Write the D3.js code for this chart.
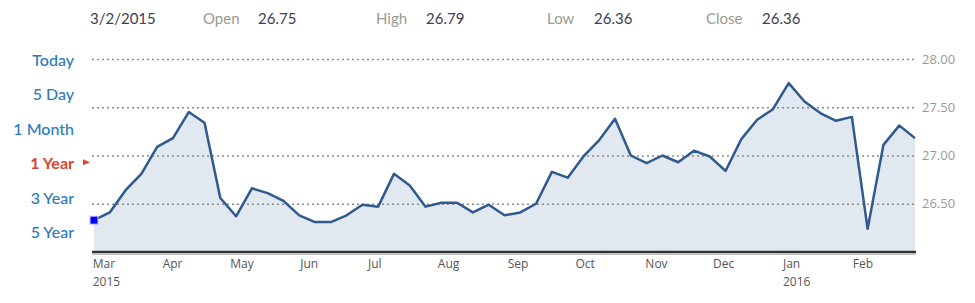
<!DOCTYPE html>
<html>
<head>
<meta charset="utf-8">
<script src="https://cdn.jsdelivr.net/npm/d3@7"></script>
<style>
  body { margin: 0; background: #fff; }
  svg { display: block; }
</style>
</head>
<body>
<div id="chart"></div>
<script>
// weekly closes, Mon 3/2/2015 .. Mon 2/29/2016
const startDate = '2015-03-02';
const closes = [
  26.33, 26.41, 26.64, 26.81, 27.09, 27.18, 27.45, 27.34, 26.56, 26.37,
  26.66, 26.61, 26.53, 26.38, 26.31, 26.31, 26.38, 26.49, 26.47, 26.81,
  26.69, 26.47, 26.51, 26.51, 26.41, 26.49, 26.38, 26.41, 26.50, 26.83,
  26.77, 26.99, 27.16, 27.38, 27.00, 26.92, 27.00, 26.93, 27.05, 26.99,
  26.84, 27.17, 27.37, 27.48, 27.75, 27.56, 27.44, 27.36, 27.40, 26.24,
  27.11, 27.31, 27.18
];
const yTicks = [26.5, 27, 27.5, 28];
const monthTicks = ['2015-03-01', '2015-04-01', '2015-05-01', '2015-06-01', '2015-07-01', '2015-08-01',
  '2015-09-01', '2015-10-01', '2015-11-01', '2015-12-01', '2016-01-01', '2016-02-01'];
const yearTicks = ['2015-03-01', '2016-01-01'];
const rangeLabels = ['Today', '5 Day', '1 Month', '1 Year', '3 Year', '5 Year'];
const activeRange = '1 Year';
const headerItems = [
  { label: '', value: '3/2/2015' },
  { label: 'Open', value: '26.75' },
  { label: 'High', value: '26.79' },
  { label: 'Low', value: '26.36' },
  { label: 'Close', value: '26.36' }
];

const width = 975, height = 303;
const parse = d3.timeParse('%Y-%m-%d');
const t0 = parse(startDate);
const data = closes.map((v, i) => ({ date: d3.timeDay.offset(t0, i * 7), value: v }));

const x = d3.scaleTime()
  .domain([data[0].date, data[data.length - 1].date])
  .range([94, 915]);

const y = d3.scaleLinear()
  .domain([26, 28])
  .range([252, 59]);

const svg = d3.create('svg')
  .attr('width', width)
  .attr('height', height)
  .style('font-family', 'Lato, "Open Sans", sans-serif');

// header row
const headX = [90, 203, 376, 547, 706];
const valX = [90, 258, 426, 594, 762];
headerItems.forEach((h, i) => {
  if (h.label) {
    svg.append('text')
      .attr('x', headX[i]).attr('y', 24)
      .attr('fill', '#9a9a8c')
      .attr('font-size', 15)
      .text(h.label);
  }
  svg.append('text')
    .attr('x', valX[i]).attr('y', 24)
    .attr('fill', '#3a4055')
    .attr('font-size', 15)
    .text(h.value);
});

// range selector labels on the left
const rangeY = d3.scalePoint()
  .domain(rangeLabels)
  .range([66, 238]);

svg.append('g')
  .selectAll('text')
  .data(rangeLabels)
  .join('text')
    .attr('x', 74)
    .attr('y', d => rangeY(d))
    .attr('text-anchor', 'end')
    .attr('font-size', 16)
    .attr('font-weight', d => d === activeRange ? 700 : 500)
    .attr('fill', d => d === activeRange ? '#d9452f' : '#2c7bbd')
    .text(d => d);

svg.append('path')
  .attr('d', `M83,${rangeY(activeRange) - 10}L90,${rangeY(activeRange) - 7}L83,${rangeY(activeRange) - 4}Z`)
  .attr('fill', '#d9452f');

// area + line
const area = d3.area()
  .x(d => x(d.date))
  .y0(y(26))
  .y1(d => y(d.value));

const line = d3.line()
  .x(d => x(d.date))
  .y(d => y(d.value));

svg.append('path')
  .datum(data)
  .attr('d', area)
  .attr('fill', '#e1e8ef');

// grid + right axis
const yAxis = d3.axisRight(y)
  .tickValues(yTicks)
  .tickSize(915 - 92)
  .tickFormat(d3.format('.2f'));

svg.append('g')
  .attr('transform', 'translate(92,0)')
  .call(yAxis)
  .call(g => g.select('.domain').remove())
  .call(g => g.selectAll('.tick line')
    .attr('stroke', '#8a8a8a')
    .attr('stroke-width', 1.3)
    .attr('stroke-dasharray', '2,3'))
  .call(g => g.selectAll('.tick text')
    .attr('x', 915 - 92 + 7)
    .attr('fill', '#9a9a9a')
    .attr('font-size', 13)
    .attr('font-family', '"Open Sans", sans-serif'));

svg.append('path')
  .datum(data)
  .attr('d', line)
  .attr('fill', 'none')
  .attr('stroke', '#2e5a8e')
  .attr('stroke-width', 2.5)
  .attr('stroke-linejoin', 'round');

// bottom axis
const years = yearTicks.map(s => +parse(s));
const xAxis = d3.axisBottom(x)
  .tickValues(monthTicks.map(parse))
  .tickSize(0)
  .tickFormat(d3.timeFormat('%b'));

const gx = svg.append('g')
  .attr('transform', `translate(0,${y(26)})`)
  .call(xAxis);

gx.select('.domain').remove();
gx.append('line')
  .attr('x1', 92).attr('x2', 916)
  .attr('y1', 0).attr('y2', 0)
  .attr('stroke', '#333')
  .attr('stroke-width', 2.5);
gx.append('line')
  .attr('x1', 92).attr('x2', 916)
  .attr('y1', 2.2).attr('y2', 2.2)
  .attr('stroke', '#aaa')
  .attr('stroke-width', 1);

gx.selectAll('.tick text')
  .attr('text-anchor', 'start')
  .attr('x', 0.5)
  .attr('y', 16)
  .attr('dy', 0)
  .attr('fill', '#555')
  .attr('font-size', 12)
  .attr('font-family', '"Open Sans", sans-serif');

gx.selectAll('.tick')
  .filter(d => years.includes(+d))
  .append('text')
    .attr('x', 0.5)
    .attr('y', 34)
    .attr('text-anchor', 'start')
    .attr('fill', '#555')
    .attr('font-size', 12)
    .attr('font-family', '"Open Sans", sans-serif')
    .text(d => d.getFullYear());

// first-point marker
svg.append('rect')
  .attr('x', x(data[0].date) - 4)
  .attr('y', y(data[0].value) - 4)
  .attr('width', 8)
  .attr('height', 8)
  .attr('fill', '#0000ff')
  .attr('stroke', '#c8c8ff')
  .attr('stroke-width', 1);

d3.select('#chart').node().appendChild(svg.node());
</script>
</body>
</html>
